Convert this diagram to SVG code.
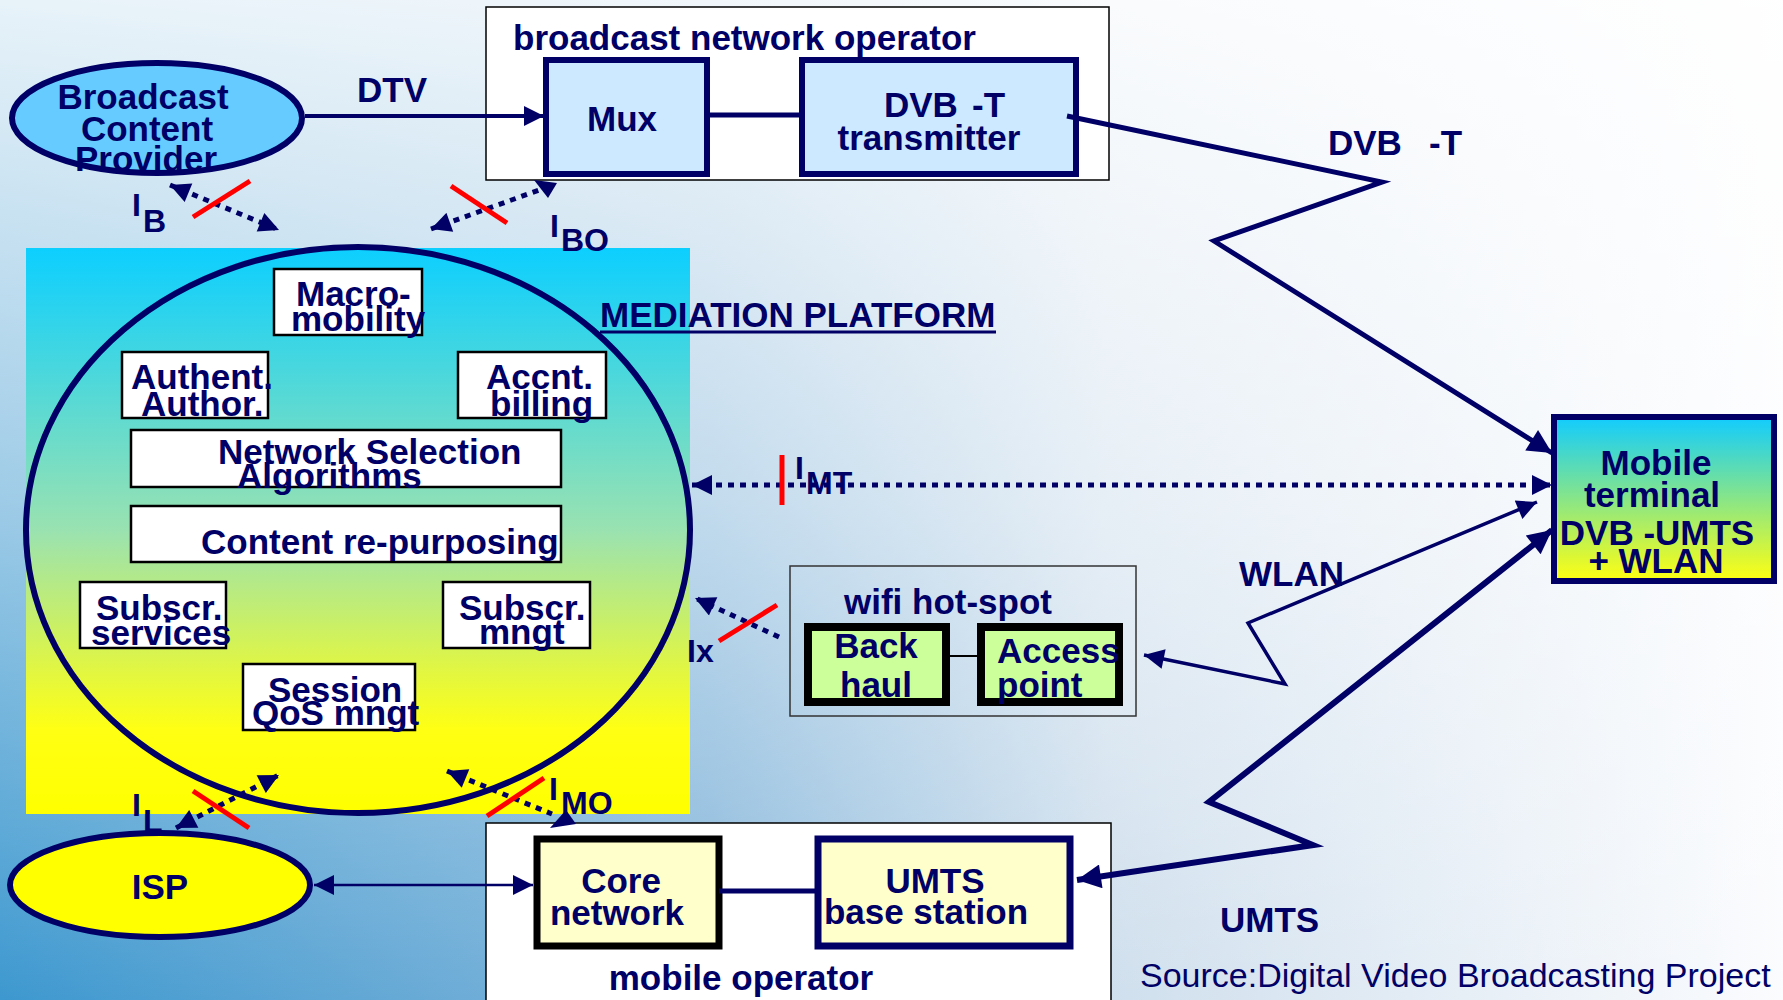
<svg xmlns="http://www.w3.org/2000/svg" width="1783" height="1000" viewBox="0 0 1783 1000">
<defs>
<linearGradient id="bgH" x1="0" y1="0" x2="1" y2="0">
<stop offset="0" stop-color="#3d98cf"/>
<stop offset="0.4" stop-color="#86b7db"/>
<stop offset="0.62" stop-color="#cfdfed"/>
<stop offset="1" stop-color="#fbfcfe"/>
</linearGradient>
<linearGradient id="bgV" x1="0" y1="0" x2="0" y2="1">
<stop offset="0" stop-color="#ffffff" stop-opacity="0.88"/>
<stop offset="0.5" stop-color="#ffffff" stop-opacity="0.5"/>
<stop offset="1" stop-color="#ffffff" stop-opacity="0"/>
</linearGradient>
<linearGradient id="medGrad" x1="0" y1="0" x2="0" y2="1">
<stop offset="0" stop-color="#0ccfff"/>
<stop offset="0.5" stop-color="#9ae2b0"/>
<stop offset="0.85" stop-color="#ffff14"/>
<stop offset="1" stop-color="#ffff00"/>
</linearGradient>
<linearGradient id="mtGrad" x1="0" y1="0" x2="0" y2="1">
<stop offset="0" stop-color="#11ccff"/>
<stop offset="1" stop-color="#ffff11"/>
</linearGradient>
<marker id="ah" viewBox="0 0 10 10" refX="10" refY="5" markerWidth="24" markerHeight="20" markerUnits="userSpaceOnUse" orient="auto-start-reverse">
<path d="M0,0 L10,5 L0,10 z" fill="#000066"/>
</marker>
<marker id="ahBig" viewBox="0 0 10 10" refX="10" refY="5" markerWidth="30" markerHeight="24" markerUnits="userSpaceOnUse" orient="auto-start-reverse">
<path d="M0,0 L10,5 L0,10 z" fill="#000066"/>
</marker>
<marker id="ahDot" viewBox="0 0 10 10" refX="10" refY="5" markerWidth="22" markerHeight="20" markerUnits="userSpaceOnUse" orient="auto-start-reverse">
<path d="M0,0 L10,5 L0,10 z" fill="#000066"/>
</marker>
<style>
text{font-family:"Liberation Sans",Arial,Helvetica,sans-serif;font-weight:bold;fill:#000066}
.lbl{font-size:35px}
.mid{text-anchor:middle}
.sub{font-size:32px}
.src{font-size:34px;font-weight:normal}
.inner{fill:#ffffff;stroke:#000000;stroke-width:2.5}
.outer{fill:#ffffff;stroke:#000000;stroke-width:1.5}
.navy{stroke:#000066;fill:none}
.dot{stroke:#000066;stroke-width:5;stroke-dasharray:6 6;fill:none}
.cut{stroke:#ff0000;stroke-width:5}
</style>
</defs>

<rect x="0" y="0" width="1783" height="1000" fill="url(#bgH)"/>
<rect x="0" y="0" width="1783" height="1000" fill="url(#bgV)"/>

<g id="mediation-platform">
<rect x="26" y="248" width="664" height="566" fill="url(#medGrad)"/>
<ellipse cx="358" cy="530" rx="332" ry="283" fill="none" stroke="#000066" stroke-width="6"/>
<text class="lbl" x="600" y="327">MEDIATION PLATFORM</text>
<line x1="600" y1="332" x2="996" y2="332" stroke="#000066" stroke-width="3"/>
</g>

<g id="macro-mobility">
<rect class="inner" x="274" y="269" width="148" height="66"/>
<text class="lbl" x="296" y="306">Macro-</text>
<text class="lbl" x="291" y="331">mobility</text>
</g>
<g id="authent-author">
<rect class="inner" x="122" y="352" width="146" height="66"/>
<text class="lbl" x="131" y="389">Authent.</text>
<text class="lbl" x="141" y="416">Author.</text>
</g>
<g id="accnt-billing">
<rect class="inner" x="458" y="352" width="148" height="66"/>
<text class="lbl" x="486" y="389">Accnt.</text>
<text class="lbl" x="490" y="416">billing</text>
</g>
<g id="network-selection">
<rect class="inner" x="131" y="430" width="430" height="57"/>
<text class="lbl" x="218" y="464">Network Selection</text>
<text class="lbl" x="237" y="488">Algorithms</text>
</g>
<g id="content-repurposing">
<rect class="inner" x="131" y="506" width="430" height="56"/>
<text class="lbl" x="201" y="554">Content re-purposing</text>
</g>
<g id="subscr-services">
<rect class="inner" x="80" y="582" width="146" height="66"/>
<text class="lbl" x="96" y="620">Subscr.</text>
<text class="lbl" x="91" y="645">services</text>
</g>
<g id="subscr-mngt">
<rect class="inner" x="443" y="582" width="147" height="66"/>
<text class="lbl" x="459" y="620">Subscr.</text>
<text class="lbl" x="479" y="644">mngt</text>
</g>
<g id="session-qos">
<rect class="inner" x="243" y="664" width="172" height="66"/>
<text class="lbl" x="268" y="702">Session</text>
<text class="lbl" x="252" y="725">QoS mngt</text>
</g>

<g id="broadcast-content-provider">
<ellipse cx="157" cy="118" rx="145" ry="55" fill="#66ccff" stroke="#000066" stroke-width="6"/>
<text class="lbl mid" x="143" y="109">Broadcast</text>
<text class="lbl mid" x="147" y="141">Content</text>
<text class="lbl mid" x="146" y="171">Provider</text>
</g>

<g id="broadcast-network-operator">
<rect class="outer" x="486" y="7" width="623" height="173"/>
<text class="lbl" x="513" y="50">broadcast network operator</text>
</g>
<g id="mux">
<rect x="546" y="60" width="161" height="114" fill="#cce9ff" stroke="#000066" stroke-width="6"/>
<text class="lbl mid" x="622" y="131">Mux</text>
</g>
<g id="dvbt-transmitter">
<rect x="802" y="60" width="274" height="114" fill="#cce9ff" stroke="#000066" stroke-width="6"/>
<text class="lbl" x="884" y="117">DVB</text>
<text class="lbl" x="972" y="117">-T</text>
<text class="lbl mid" x="929" y="150">transmitter</text>
</g>

<g id="mobile-terminal">
<rect x="1554" y="417" width="220" height="164" fill="url(#mtGrad)" stroke="#000066" stroke-width="6"/>
<text class="lbl mid" x="1656" y="475">Mobile</text>
<text class="lbl mid" x="1652" y="507">terminal</text>
<text class="lbl mid" x="1657" y="545">DVB -UMTS</text>
<text class="lbl mid" x="1656" y="573">+ WLAN</text>
</g>

<g id="wifi-hot-spot">
<rect x="790" y="566" width="346" height="150" fill="none" stroke="#333333" stroke-width="1.5"/>
<text class="lbl mid" x="948" y="614">wifi hot-spot</text>
</g>
<g id="back-haul">
<rect x="808" y="627" width="138" height="75" fill="#ccff99" stroke="#000000" stroke-width="8"/>
<text class="lbl mid" x="876" y="658">Back</text>
<text class="lbl mid" x="876" y="697">haul</text>
</g>
<g id="access-point">
<rect x="981" y="627" width="138" height="75" fill="#ccff99" stroke="#000000" stroke-width="8"/>
<text class="lbl" x="997" y="663">Access</text>
<text class="lbl" x="997" y="697">point</text>
</g>

<g id="isp">
<ellipse cx="160" cy="885" rx="150" ry="52" fill="#ffff00" stroke="#000066" stroke-width="6"/>
<text class="lbl mid" x="160" y="899">ISP</text>
</g>

<g id="mobile-operator">
<rect class="outer" x="486" y="823" width="625" height="180"/>
<text class="lbl mid" x="741" y="990">mobile operator</text>
</g>
<g id="core-network">
<rect x="537" y="839" width="182" height="107" fill="#ffffcc" stroke="#000000" stroke-width="7"/>
<text class="lbl mid" x="621" y="893">Core</text>
<text class="lbl mid" x="617" y="925">network</text>
</g>
<g id="umts-base-station">
<rect x="818" y="839" width="252" height="107" fill="#ffffcc" stroke="#000066" stroke-width="7"/>
<text class="lbl mid" x="935" y="893">UMTS</text>
<text class="lbl mid" x="926" y="924">base station</text>
</g>

<g id="connectors">
<line class="navy" x1="305" y1="116" x2="544" y2="116" stroke-width="4" marker-end="url(#ah)"/>
<line class="navy" x1="707" y1="115" x2="802" y2="115" stroke-width="5"/>
<line class="navy" x1="719" y1="891" x2="818" y2="891" stroke-width="5"/>
<line x1="946" y1="656" x2="981" y2="656" stroke="#000000" stroke-width="2"/>
<line class="navy" x1="314" y1="885" x2="533" y2="885" stroke-width="2.5" marker-start="url(#ah)" marker-end="url(#ah)"/>
<polyline class="navy" points="1067,116 1382,182 1214,241 1552,453" stroke-width="5" marker-end="url(#ahBig)"/>
<polyline class="navy" points="1077,880 1313,845 1209,802 1552,530" stroke-width="6" marker-start="url(#ahBig)" marker-end="url(#ahBig)"/>
<polyline class="navy" points="1144,655 1285,684 1248,623 1537,502" stroke-width="3.5" marker-start="url(#ah)" marker-end="url(#ah)"/>
<line class="dot" x1="692" y1="485" x2="1552" y2="485" marker-start="url(#ahDot)" marker-end="url(#ahDot)"/>
<line class="dot" x1="170" y1="185" x2="279" y2="230" marker-start="url(#ahDot)" marker-end="url(#ahDot)"/>
<line class="dot" x1="431" y1="229" x2="542" y2="189" marker-start="url(#ahDot)"/>
<polygon points="534,180 557,183 548,198" fill="#000066"/>
<line class="dot" x1="779" y1="637" x2="695" y2="598" marker-end="url(#ahDot)"/>
<line class="dot" x1="176" y1="828" x2="279" y2="775" marker-start="url(#ahDot)" marker-end="url(#ahDot)"/>
<line class="dot" x1="447" y1="771" x2="552" y2="814" marker-start="url(#ahDot)"/>
<polygon points="566,810 550,828 576,824" fill="#000066"/>
<line class="cut" x1="193" y1="217" x2="250" y2="181"/>
<line class="cut" x1="451" y1="186" x2="507" y2="223"/>
<line class="cut" x1="782" y1="455" x2="782" y2="505" stroke-width="7"/>
<line class="cut" x1="719" y1="641" x2="777" y2="605"/>
<line class="cut" x1="193" y1="791" x2="249" y2="828"/>
<line class="cut" x1="487" y1="816" x2="544" y2="778"/>
</g>

<g id="labels">
<text class="lbl" x="357" y="102">DTV</text>
<text class="lbl" x="1328" y="155">DVB</text>
<text class="lbl" x="1429" y="155">-T</text>
<text class="lbl" x="1239" y="586">WLAN</text>
<text class="lbl" x="1220" y="932">UMTS</text>
<text class="sub" x="132" y="216">I</text>
<text class="sub" x="143" y="232">B</text>
<text class="sub" x="550" y="237">I</text>
<text class="sub" x="561" y="251">BO</text>
<text class="sub" x="795" y="479">I</text>
<text class="sub" x="806" y="494">MT</text>
<text class="sub" x="687" y="662">Ix</text>
<text class="sub" x="132" y="816">I</text>
<text class="sub" x="143" y="832">L</text>
<text class="sub" x="549" y="800">I</text>
<text class="sub" x="561" y="814">MO</text>
<text class="src" x="1140" y="987">Source:Digital Video Broadcasting Project</text>
</g>
</svg>
